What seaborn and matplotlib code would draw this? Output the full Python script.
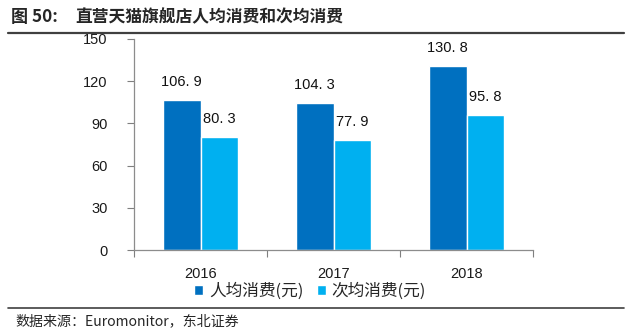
import matplotlib
matplotlib.use("Agg")
import matplotlib.pyplot as plt
import seaborn as sns
import pandas as pd
from matplotlib.lines import Line2D
from matplotlib.patches import Patch

years = ["2016", "2017", "2018"]
per_capita = [106.9, 104.3, 130.8]
per_visit = [80.3, 77.9, 95.8]
series_names = ["人均消费(元)", "次均消费(元)"]
colors = ["#0070C0", "#00B0F0"]
yticks = [0, 30, 60, 90, 120, 150]

sns.set_theme(style="white")
plt.rcParams['font.family'] = ['Liberation Sans', 'Noto Sans CJK SC', 'DejaVu Sans']

df = pd.DataFrame({
    "year": years * 2,
    "value": per_capita + per_visit,
    "series": [series_names[0]] * 3 + [series_names[1]] * 3,
})

fig = plt.figure(figsize=(6.32, 3.32), dpi=100)
ax = fig.add_axes([134 / 632, 1 - 250 / 332, (533 - 134) / 632, (250 - 39) / 332])

sns.barplot(data=df, x="year", y="value", hue="series", palette=colors,
            width=0.57, ax=ax, legend=False, saturation=1)

for c in ax.containers:
    labels = [f"{v:.1f}".replace(".", ". ") for v in c.datavalues]
    ax.bar_label(c, labels=labels, padding=8, fontsize=10.5,
                 family=['Liberation Sans', 'DejaVu Sans'], color="#111111")

ax.set_xlim(-0.5, 2.5)
ax.set_ylim(0, 150)
ax.set_yticks(yticks)
ax.set_xlabel("")
ax.set_ylabel("")
ax.set_xticks([0, 1, 2])
ax.set_xticks([-0.5, 0.5, 1.5, 2.5], minor=True)
ax.tick_params(axis="x", which="major", length=0, labelsize=10.5, pad=12)
ax.tick_params(axis="x", which="minor", length=5, width=0.8, color="#7f7f7f", direction="out")
ax.tick_params(axis="y", length=5, width=0.8, color="#7f7f7f", direction="out", labelsize=10.5, pad=14)
ax.xaxis.set_ticks_position("bottom")
ax.yaxis.set_ticks_position("left")
for lab in ax.get_xticklabels() + ax.get_yticklabels():
    lab.set_color("#1a1a1a")
for s in ["top", "right"]:
    ax.spines[s].set_visible(False)
for s in ["left", "bottom"]:
    ax.spines[s].set_color("#8c8c8c")
    ax.spines[s].set_linewidth(0.9)

handles = [Patch(facecolor=colors[0]), Patch(facecolor=colors[1])]
fig.legend(handles, series_names, loc="center", bbox_to_anchor=(310 / 632, 1 - 291 / 332),
           ncol=2, frameon=False, handlelength=0.55, handleheight=0.55, handletextpad=0.35,
           columnspacing=0.8, prop={'family': ['Noto Sans CJK SC'], 'size': 12})

fig.text(11 / 632, 1 - 17 / 332, "图 50:",
         fontsize=12.3, fontweight="bold", family=['Noto Sans CJK SC'], va="center", ha="left")
fig.text(75 / 632, 1 - 17 / 332, "直营天猫旗舰店人均消费和次均消费",
         fontsize=12.1, fontweight="bold", family=['Noto Sans CJK SC'], va="center", ha="left")
fig.text(15 / 632, 1 - 321 / 332, "数据来源：Euromonitor，东北证券",
         fontsize=10.1, family=['Noto Sans CJK SC'], va="center", ha="left")

fig.add_artist(Line2D([8 / 632, 624 / 632], [1 - 33 / 332, 1 - 33 / 332], color="#404040", lw=1.6))
fig.add_artist(Line2D([8 / 632, 624 / 632], [1 - 308 / 332, 1 - 308 / 332], color="#404040", lw=1.2))

fig.savefig("out.png", dpi=100)
